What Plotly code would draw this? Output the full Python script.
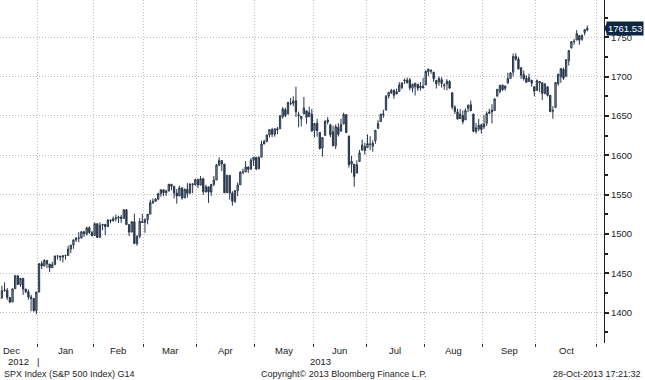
import pandas as pd
import plotly.graph_objects as go

# ---------------- data: SPX daily OHLC, 10-Dec-2012 .. 28-Oct-2013 ----------------
holidays = ["2012-12-25", "2013-01-01", "2013-01-21", "2013-02-18", "2013-03-29",
            "2013-05-27", "2013-07-04", "2013-09-02"]
first_day = "2012-12-10"

opens = [
    1418.07,1418.55,1427.84,1428.48,1419.45,1413.54,1430.47,1446.79,1435.81,1443.67,1430.15,1426.66,1419.83,1418.10,1402.43,
    1426.19,1462.42,1459.37,1466.47,1461.89,1457.15,1461.02,1472.12,1472.05,1470.67,1472.33,1472.63,1480.95,1485.98,1492.56,1494.81,1494.82,1502.96,1500.18,1507.84,1501.96,
    1498.11,1513.17,1495.71,1511.29,1512.12,1509.39,1517.93,1517.01,1519.43,1520.33,1521.38,1519.79,1530.94,1511.95,1502.42,1515.60,1487.85,1496.94,1515.99,
    1514.68,1518.20,1525.20,1539.79,1541.46,1544.26,1551.15,1556.22,1552.48,1554.52,1563.21,1560.70,1552.10,1548.34,1558.71,1545.90,1556.89,1551.69,1563.75,1562.86,
    1569.18,1562.17,1570.25,1553.69,1559.98,1553.26,1563.11,1568.61,1587.73,1593.30,1588.84,1552.36,1574.57,1552.03,1541.61,1555.25,1562.50,1578.78,1578.78,1585.16,1582.34,1593.58,
    1597.55,1582.77,1597.60,1614.40,1617.55,1625.95,1632.69,1626.69,1632.10,1633.75,1649.13,1658.07,1652.45,1665.71,1666.20,1669.39,1651.62,1646.67,1652.63,1656.57,1649.14,1652.13,
    1631.71,1640.73,1629.05,1609.29,1625.27,1644.67,1638.64,1629.94,1612.15,1635.52,1630.64,1639.77,1651.83,1624.62,1588.62,1588.77,1577.52,1592.27,1606.44,1611.12,
    1609.78,1614.29,1611.48,1618.65,1634.20,1642.89,1651.56,1657.41,1675.26,1679.69,1682.70,1677.91,1681.05,1686.15,1694.41,1695.53,1696.06,1685.21,1687.31,1690.32,1687.92,1687.76,
    1689.42,1706.10,1708.01,1705.79,1695.30,1693.35,1696.10,1688.37,1690.65,1693.88,1679.61,1661.22,1655.25,1646.81,1650.66,1645.03,1659.92,1664.29,1652.54,1630.25,1633.50,1638.89,
    1635.95,1640.72,1653.28,1657.44,1656.85,1675.11,1681.04,1689.21,1685.04,1691.70,1697.73,1705.74,1726.00,1722.44,1711.44,1702.60,1698.02,1694.05,1695.52,1687.26,
    1682.41,1691.90,1692.35,1678.79,1687.15,1676.22,1656.99,1660.88,1691.09,1699.86,1709.17,1700.49,1720.17,1736.72,1745.20,1746.48,1752.27,1747.48,1756.01,1759.42,
]
highs = [
    1421.64,1434.27,1438.59,1431.36,1419.45,1430.67,1448.00,1447.75,1443.70,1443.67,1430.15,1429.42,1422.80,1418.10,1426.74,
    1462.43,1465.47,1467.94,1466.47,1461.89,1464.73,1472.30,1472.75,1472.05,1473.31,1473.96,1485.16,1485.98,1492.56,1496.13,1502.27,1503.26,1503.23,1509.35,1509.94,1504.19,
    1514.41,1513.17,1514.96,1512.53,1512.90,1518.31,1518.31,1522.29,1524.69,1523.14,1524.24,1530.94,1530.94,1511.95,1515.64,1525.84,1498.99,1520.08,1525.34,
    1519.99,1525.27,1543.47,1545.25,1545.78,1552.48,1556.27,1556.77,1556.39,1563.32,1563.62,1560.70,1557.25,1561.56,1558.71,1557.74,1564.91,1563.95,1564.07,1570.28,
    1570.57,1573.66,1571.47,1562.60,1559.98,1563.07,1573.89,1589.07,1597.35,1593.30,1588.84,1575.35,1574.57,1554.38,1555.89,1565.55,1579.58,1583.00,1592.64,1585.78,1596.65,1597.57,
    1597.55,1598.60,1618.46,1619.77,1626.03,1632.78,1635.01,1633.70,1636.00,1651.10,1661.49,1660.51,1667.47,1672.84,1674.93,1687.18,1655.50,1649.78,1674.21,1656.57,1661.91,1658.99,
    1640.42,1646.53,1629.31,1622.56,1644.40,1648.69,1640.13,1637.71,1639.25,1640.80,1646.50,1654.19,1652.45,1624.62,1599.19,1588.77,1593.79,1606.83,1620.07,1615.94,
    1626.61,1624.26,1618.97,1632.07,1644.68,1652.51,1657.92,1676.63,1680.19,1684.51,1683.73,1684.75,1693.12,1692.09,1697.61,1698.78,1698.38,1690.94,1691.85,1690.92,1693.19,1698.43,
    1707.85,1709.67,1709.24,1705.79,1695.30,1700.18,1699.42,1691.49,1696.81,1695.52,1679.61,1663.60,1659.18,1658.92,1656.99,1659.55,1664.85,1669.51,1652.54,1641.18,1646.41,1640.08,
    1651.35,1655.72,1659.17,1664.83,1672.40,1684.09,1689.13,1689.97,1688.73,1704.95,1705.52,1729.44,1729.86,1725.23,1711.44,1707.63,1701.71,1703.85,1695.52,1687.26,
    1696.55,1693.87,1692.35,1691.94,1687.15,1676.79,1662.47,1692.56,1703.44,1711.03,1711.57,1721.76,1733.45,1745.31,1747.79,1759.33,1752.27,1753.94,1759.82,1764.99,
]
lows = [
    1415.64,1418.55,1426.76,1416.00,1411.88,1413.54,1430.47,1435.80,1432.82,1422.58,1424.66,1416.43,1401.80,1401.58,1398.11,
    1426.19,1455.53,1458.99,1456.62,1451.64,1457.15,1461.02,1467.58,1465.69,1463.76,1467.60,1472.63,1475.81,1481.16,1489.90,1489.46,1494.82,1496.33,1498.09,1500.11,1496.76,
    1498.11,1495.02,1495.71,1504.71,1498.49,1509.39,1513.61,1515.61,1515.93,1514.02,1514.14,1519.79,1511.41,1497.29,1502.42,1487.85,1485.01,1494.88,1514.46,
    1501.48,1512.29,1525.20,1538.11,1541.46,1542.94,1547.36,1548.24,1548.25,1554.52,1555.74,1545.13,1538.57,1548.34,1543.55,1545.90,1546.22,1551.69,1551.90,1561.08,
    1558.47,1562.17,1549.80,1552.52,1539.50,1548.63,1560.92,1568.61,1586.17,1579.97,1552.28,1552.36,1543.69,1536.03,1539.40,1548.19,1562.50,1575.80,1578.78,1577.56,1582.34,1586.50,
    1581.28,1582.77,1597.60,1614.21,1616.64,1622.70,1623.09,1623.71,1626.74,1633.75,1646.68,1648.60,1652.45,1663.52,1662.67,1648.86,1635.53,1636.88,1652.63,1640.05,1648.61,1630.74,
    1622.72,1623.62,1607.09,1598.23,1625.27,1639.26,1622.92,1610.92,1608.07,1623.96,1630.34,1639.77,1628.91,1584.32,1577.70,1560.33,1577.09,1592.27,1606.44,1601.06,
    1609.78,1606.77,1604.57,1614.71,1634.20,1642.89,1647.66,1657.41,1672.33,1677.89,1671.84,1677.91,1681.05,1684.08,1690.67,1691.13,1682.57,1680.07,1676.03,1681.86,1682.42,1684.94,
    1689.42,1700.68,1703.55,1693.29,1684.91,1688.38,1686.02,1683.35,1682.62,1684.83,1658.59,1652.61,1645.84,1646.08,1639.43,1645.03,1654.81,1656.02,1629.05,1627.47,1630.88,1627.47,
    1633.41,1637.41,1653.07,1640.62,1656.85,1675.11,1678.70,1681.96,1682.22,1691.70,1697.73,1700.35,1720.20,1708.89,1697.10,1694.90,1691.88,1693.11,1687.11,1674.99,
    1682.07,1680.34,1670.36,1677.33,1674.70,1655.03,1646.47,1660.88,1688.52,1692.13,1695.93,1700.49,1714.12,1735.74,1740.67,1746.48,1740.50,1745.50,1752.45,1757.67,
]
closes = [
    1418.55,1427.84,1428.48,1419.45,1413.58,1430.36,1446.79,1435.81,1443.69,1430.15,1426.66,1419.83,1418.10,1402.43,1426.19,
    1462.42,1459.37,1466.47,1461.89,1457.15,1461.02,1472.12,1472.05,1470.68,1472.34,1472.63,1480.94,1485.98,1492.56,1494.81,1494.82,1502.96,1500.18,1507.84,1501.96,1498.11,
    1513.17,1495.71,1511.29,1512.12,1509.39,1517.93,1517.01,1519.43,1520.33,1521.38,1519.79,1530.94,1511.95,1502.42,1515.60,1487.85,1496.94,1515.99,1514.68,
    1518.20,1525.20,1539.79,1541.46,1544.26,1551.18,1556.22,1552.48,1554.52,1563.23,1560.70,1552.10,1548.34,1558.71,1545.80,1556.89,1551.69,1563.77,1562.85,1569.19,
    1562.17,1570.25,1553.69,1559.98,1553.28,1563.07,1568.61,1587.73,1593.37,1588.85,1552.36,1574.57,1552.01,1541.61,1555.25,1562.50,1578.78,1578.79,1585.16,1582.24,1593.61,1597.57,
    1582.70,1597.59,1614.42,1617.50,1625.96,1632.69,1626.67,1633.70,1633.77,1650.34,1658.78,1650.47,1667.47,1666.29,1669.16,1655.35,1650.51,1649.60,1660.06,1648.36,1654.41,1630.74,
    1640.42,1631.38,1608.90,1622.56,1643.38,1642.81,1626.13,1612.52,1636.36,1626.73,1639.04,1651.81,1628.93,1588.19,1592.43,1573.09,1588.03,1603.26,1613.20,1606.28,
    1614.96,1614.08,1615.41,1631.89,1640.46,1652.32,1652.62,1675.02,1680.19,1682.50,1676.26,1680.91,1689.37,1692.09,1695.53,1692.39,1685.94,1690.25,1691.65,1685.33,1685.96,1685.73,
    1706.87,1709.67,1707.14,1697.37,1690.91,1697.48,1691.42,1689.47,1694.16,1685.39,1661.32,1655.83,1646.06,1652.35,1642.80,1656.96,1663.50,1656.78,1630.48,1634.96,1638.17,1632.97,
    1639.77,1653.08,1655.08,1655.17,1671.71,1683.99,1689.13,1683.42,1687.99,1697.60,1704.76,1725.52,1722.34,1709.91,1701.84,1697.42,1692.77,1698.67,1691.75,1681.55,
    1695.00,1693.87,1678.66,1690.50,1676.12,1655.45,1656.40,1692.56,1703.20,1710.14,1698.06,1721.54,1733.15,1744.50,1744.66,1754.67,1746.38,1752.07,1759.77,1761.53,
]
y_ticks = [1400, 1450, 1500, 1550, 1600, 1650, 1700, 1750]
month_names = ["Dec", "Jan", "Feb", "Mar", "Apr", "May", "Jun", "Jul", "Aug", "Sep", "Oct"]

# ---------------- trading-day calendar (x axis is in trading days) ----------------
cal = pd.bdate_range("2012-12-03", "2013-11-01", freq="C", holidays=holidays)
offset = list(cal).index(pd.Timestamp(first_day))
n = len(closes)
x = list(range(offset, offset + n))
dates = [d.strftime("%Y-%m-%d") for d in cal[offset:offset + n]]

bounds = [-0.5] + [i - 0.5 for i in range(1, len(cal)) if cal[i].month != cal[i - 1].month] + [len(cal) - 0.5]
bounds = bounds[:len(month_names) + 1]
centers = [(bounds[i] + bounds[i + 1]) / 2 for i in range(len(month_names))]

XR = [offset + 0.27, offset + 228.3]
YR = [1361.5, 1797.4]

DARK = "#27354a"
GRID = "#bdbdbd"
fig = go.Figure()
fig.add_trace(go.Candlestick(
    x=x, open=opens, high=highs, low=lows, close=closes, text=dates,
    increasing=dict(fillcolor="#9eacbf", line=dict(color=DARK, width=1)),
    decreasing=dict(fillcolor="#2a3a50", line=dict(color=DARK, width=1)),
    whiskerwidth=0, showlegend=False, hoverinfo="skip",
))

FONT = "Liberation Sans, Arial, sans-serif"
fig.update_layout(
    width=645, height=380,
    margin=dict(l=0, r=41, t=0, b=37),
    paper_bgcolor="white", plot_bgcolor="white",
    font=dict(family=FONT, size=9, color="#222222"),
    xaxis=dict(
        range=XR, rangeslider=dict(visible=False),
        tickmode="array", tickvals=bounds[1:], ticktext=[""] * (len(bounds) - 1),
        showgrid=True, gridcolor=GRID, griddash="1px,2px", gridwidth=1,
        ticks="outside", ticklen=3, tickcolor="#333333", tickwidth=1,
        showline=False, zeroline=False, automargin=False,
    ),
    yaxis=dict(
        range=YR, side="right", tickmode="array", tickvals=y_ticks,
        showgrid=True, gridcolor=GRID, griddash="1px,2px", gridwidth=1,
        ticks="outside", ticklen=4, tickcolor="#222222", tickwidth=2,
        minor=dict(tickmode="array", tickvals=[t + 25 for t in y_ticks] + [1375],
                   ticks="outside", ticklen=3, tickcolor="#222222", showgrid=False),
        showline=True, linecolor="#222222", linewidth=1, mirror=False,
        zeroline=False, automargin=False, tickfont=dict(size=9.5),
    ),
)

ann = []
for name, c in zip(month_names, centers):
    ann.append(dict(x=c, xref="x", y=-0.021, yref="paper", text=name, showarrow=False,
                    xanchor="center", yanchor="middle", font=dict(size=9.5)))
ann.append(dict(x=18 / 604, xref="paper", y=-0.055, yref="paper", text="2012", showarrow=False,
                xanchor="center", yanchor="middle", font=dict(size=9.5)))
ann.append(dict(x=bounds[1], xref="x", y=-0.055, yref="paper", text="|", showarrow=False,
                xanchor="center", yanchor="middle", font=dict(size=9.5)))
ann.append(dict(x=320 / 604, xref="paper", y=-0.055, yref="paper", text="2013", showarrow=False,
                xanchor="center", yanchor="middle", font=dict(size=9.5)))
ann.append(dict(x=2 / 604, xref="paper", y=-0.089, yref="paper", text="SPX Index (S&P 500 Index) G14",
                showarrow=False, xanchor="left", yanchor="middle", font=dict(size=9)))
ann.append(dict(x=344 / 604, xref="paper", y=-0.089, yref="paper", text="Copyright\u00a9 2013 Bloomberg Finance L.P.",
                showarrow=False, xanchor="center", yanchor="middle", font=dict(size=9)))
ann.append(dict(x=643 / 604, xref="paper", y=-0.089, yref="paper", text="28-Oct-2013 17:21:32",
                showarrow=False, xanchor="right", yanchor="middle", font=dict(size=9)))
last = closes[-1]
ann.append(dict(x=1, xref="paper", xshift=2, y=last, yref="y", text=f"{last:.2f}", showarrow=False,
                xanchor="left", yanchor="middle", bgcolor="#0d2642", borderpad=1,
                font=dict(size=9.5, color="white")))
fig.update_layout(annotations=ann)

fig.add_shape(type="path", xref="paper", yref="y",
              path=f"M 1.0 {last} L {1 + 4/604} {last + 8.5} L {1 + 4/604} {last - 8.5} Z",
              fillcolor="#0d2642", line=dict(width=0), layer="above")

fig.write_html("out.html", config={"displayModeBar": False},
               post_script="document.body.style.margin='0';document.body.style.padding='0';")
